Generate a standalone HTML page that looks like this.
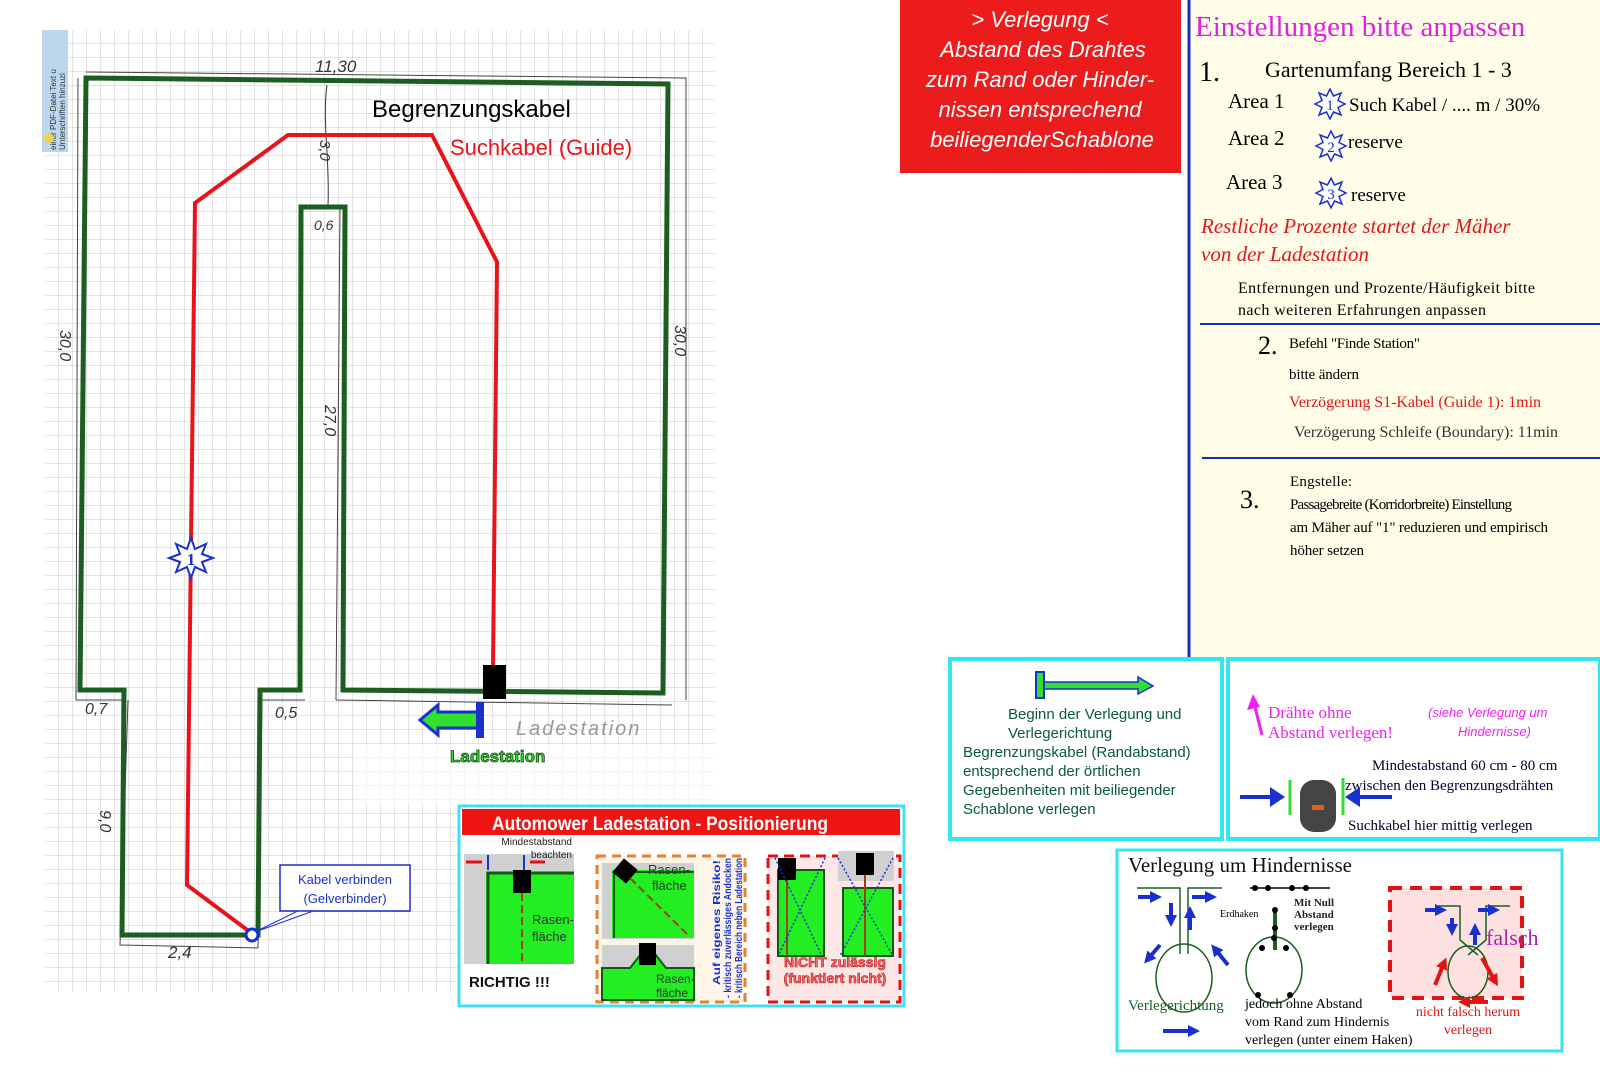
<!DOCTYPE html>
<html><head><meta charset="utf-8"><style>
html,body{margin:0;padding:0;background:#fff;width:1600px;height:1081px;overflow:hidden}
svg{display:block}
.s{font-family:"Liberation Sans",sans-serif}
.r{font-family:"Liberation Serif",serif}
.h{font-family:"Liberation Sans",sans-serif;font-style:italic;fill:#333}
</style></head><body>
<svg width="1600" height="1081" viewBox="0 0 1600 1081" xmlns="http://www.w3.org/2000/svg">
<defs>
<pattern id="g" width="14" height="14" patternUnits="userSpaceOnUse" x="45" y="30">
<path d="M14 0V14M0 14H14" fill="none" stroke="#c8c8c8" stroke-width="1"/>
</pattern>
<pattern id="g2" width="14" height="14" patternUnits="userSpaceOnUse" x="45" y="30">
<path d="M14 0V14M0 14H14" fill="none" stroke="#eaeaea" stroke-width="1"/>
</pattern>
<marker id="ab" viewBox="0 0 10 10" refX="5" refY="5" markerWidth="3" markerHeight="3" orient="auto"><path d="M0 0 L10 5 L0 10 Z" fill="#1a2fd0"/></marker>
<marker id="ar" viewBox="0 0 10 10" refX="5" refY="5" markerWidth="3" markerHeight="3" orient="auto"><path d="M0 0 L10 5 L0 10 Z" fill="#e01414"/></marker>
</defs>
<rect x="45" y="30" width="670" height="962" fill="url(#g)"/>
<rect x="355" y="745" width="360" height="60" fill="#fff"/>
<rect x="355" y="745" width="360" height="60" fill="url(#g2)"/>
<rect x="42" y="30" width="26" height="122" fill="#bcd6ee"/>
<text class="s" font-size="8" fill="#333" transform="translate(56,150) rotate(-90)">einer PDF-Datei Text u</text>
<text class="s" font-size="8" fill="#333" transform="translate(65,150) rotate(-90)">Unterschriften hinzuzi</text>
<circle cx="49" cy="138" r="5" fill="#f2d24a"/>
<path d="M86 72 L686 78 L686 700 M78 78 L76 700 L124 700 M128 700 L120 945 L258 948 M258 948 L262 700 L305 700 M336 700 L340 205 M336 700 L672 705" fill="none" stroke="#444" stroke-width="1"/>
<path d="M327 85 C322 120,330 160,328 205" fill="none" stroke="#333" stroke-width="1"/>
<path d="M86 78 L668 84 L663 693 L343 690 L345 207 L301 207 L300 690 L260 690 L258 935 L122 935 L124 690 L80 690 L86 78 Z" fill="none" stroke="#1b5e20" stroke-width="5"/>
<path d="M250 932 L187 885 L195 203 L288 135 L432 135 L497 262 L493 668" fill="none" stroke="#e8141c" stroke-width="4"/>
<rect x="483" y="665" width="23" height="34" fill="#000"/>
<polygon points="191,538 195,549 206,544 202,554 213,558 202,562 206,572 195,567 191,578 187,567 176,572 180,562 169,558 180,554 176,544 187,549" fill="#fff" stroke="#1a2fd0" stroke-width="2"/>
<text class="r" x="191" y="565" font-size="17" font-weight="bold" text-anchor="middle" fill="#1a2fd0">1</text>
<text class="s" x="372" y="117" font-size="24" fill="#000">Begrenzungskabel</text>
<text class="s" x="450" y="155" font-size="22" fill="#e8141c">Suchkabel (Guide)</text>
<text class="h" x="315" y="72" font-size="17">11,30</text>
<text class="h" font-size="15" transform="translate(320,140) rotate(90)">3,0</text>
<text class="h" x="314" y="230" font-size="14">0,6</text>
<text class="h" font-size="16" transform="translate(60,330) rotate(90)">30,0</text>
<text class="h" font-size="16" transform="translate(675,325) rotate(90)">30,0</text>
<text class="h" font-size="16" transform="translate(325,405) rotate(90)">27,0</text>
<text class="h" x="85" y="714" font-size="16">0,7</text>
<text class="h" x="275" y="718" font-size="16">0,5</text>
<text class="h" font-size="16" transform="translate(100,810) rotate(90)">9,0</text>
<text class="h" x="168" y="958" font-size="17">2,4</text>
<text class="h" x="516" y="735" font-size="20" style="fill:#999" letter-spacing="2">Ladestation</text>
<path d="M480 712 L438 712 L438 705 L420 720 L438 735 L438 728 L480 728 Z" fill="#2fe02f" stroke="#1a2fd0" stroke-width="3"/>
<rect x="476" y="702" width="8" height="36" fill="#1a2fd0"/>
<text class="s" x="450" y="762" font-size="17" font-weight="bold" fill="#2fd42f" stroke="#145214" stroke-width="0.8">Ladestation</text>
<path d="M255 932 L310 905 L330 905 Z" fill="#fff" stroke="#1a2fd0" stroke-width="1"/>
<rect x="280" y="865" width="130" height="46" fill="#fff" stroke="#1a2fd0" stroke-width="1.5"/>
<text class="s" x="345" y="884" font-size="13" text-anchor="middle" fill="#1a2fd0">Kabel verbinden</text>
<text class="s" x="345" y="903" font-size="13" text-anchor="middle" fill="#1a2fd0">(Gelverbinder)</text>
<circle cx="252" cy="935" r="6" fill="#fff" stroke="#1a2fd0" stroke-width="3"/>

<rect x="459" y="806" width="445" height="200" fill="#fff" stroke="#40e0f0" stroke-width="3"/>
<rect x="462" y="809" width="438" height="26" fill="#f01414"/>
<text class="s" x="492" y="830" font-size="19" font-weight="bold" fill="#fff" textLength="336" lengthAdjust="spacingAndGlyphs">Automower Ladestation - Positionierung</text>
<rect x="464" y="854" width="110" height="110" fill="#d0d0d0"/>
<rect x="486" y="872" width="88" height="92" fill="#22ee22"/>
<path d="M488 964 V873 H574" fill="none" stroke="#155715" stroke-width="3"/>
<text class="s" x="572" y="845" font-size="10" text-anchor="end" fill="#222">Mindestabstand</text>
<text class="s" x="572" y="858" font-size="10" text-anchor="end" fill="#222">beachten</text>
<path d="M466 862 H482 M530 862 H545" stroke="#e01010" stroke-width="3"/>
<path d="M488 855 V870 M524 855 V870" stroke="#1a2fd0" stroke-width="2"/>
<rect x="513" y="870" width="18" height="23" fill="#000"/>
<path d="M522 893 V964" stroke="#a04010" stroke-width="2" stroke-dasharray="8 4"/>
<text class="s" x="532" y="924" font-size="13" fill="#333">Rasen-</text>
<text class="s" x="532" y="941" font-size="13" fill="#333">fläche</text>
<text class="s" x="469" y="987" font-size="15" font-weight="bold" fill="#111">RICHTIG !!!</text>
<rect x="597" y="856" width="148" height="146" fill="#fff6ea" stroke="#e88030" stroke-width="3" stroke-dasharray="9 6"/>
<rect x="602" y="863" width="92" height="76" fill="#d0d0d0"/>
<rect x="612" y="870" width="82" height="68" fill="#22ee22"/>
<path d="M614 938 V872 H694" fill="none" stroke="#155715" stroke-width="2"/>
<rect x="616" y="862" width="18" height="18" fill="#000" transform="rotate(40 625 871)"/>
<path d="M630 878 L688 935" stroke="#a04010" stroke-width="2" stroke-dasharray="8 4"/>
<text class="s" x="648" y="874" font-size="13" fill="#333">Rasen-</text>
<text class="s" x="652" y="890" font-size="13" fill="#333">fläche</text>
<rect x="602" y="945" width="92" height="55" fill="#d0d0d0"/>
<path d="M602 968 L630 968 L648 945 L666 968 L694 968 V1000 H602 Z" fill="#22ee22" stroke="#155715" stroke-width="2"/>
<rect x="639" y="943" width="17" height="22" fill="#000"/>
<text class="s" x="656" y="983" font-size="12" fill="#333">Rasen-</text>
<text class="s" x="656" y="997" font-size="12" fill="#333">fläche</text>
<text class="s" font-size="10" font-weight="bold" fill="#1a2fd0" transform="translate(720,985) rotate(-90)" textLength="125" lengthAdjust="spacingAndGlyphs">Auf eigenes Risiko!</text>
<text class="s" font-size="10" font-weight="bold" fill="#1a2fd0" transform="translate(731,998) rotate(-90)" textLength="140" lengthAdjust="spacingAndGlyphs">- kritisch zuverlässiges Andocken</text>
<text class="s" font-size="10" font-weight="bold" fill="#1a2fd0" transform="translate(742,998) rotate(-90)" textLength="140" lengthAdjust="spacingAndGlyphs">- kritisch Bereich neben Ladestation</text>
<rect x="768" y="856" width="132" height="146" fill="#fde6e6" stroke="#e01414" stroke-width="3" stroke-dasharray="10 6"/>
<rect x="778" y="870" width="46" height="86" fill="#22ee22" stroke="#155715" stroke-width="2"/>
<rect x="778" y="858" width="18" height="22" fill="#000"/>
<path d="M787 880 V956" stroke="#a04010" stroke-width="2"/>
<path d="M775 858 L822 956 M825 858 L778 956" stroke="#1a2fd0" stroke-width="1.5" stroke-dasharray="2 2"/>
<rect x="838" y="851" width="56" height="30" fill="#d0d0d0"/>
<rect x="843" y="888" width="50" height="68" fill="#22ee22" stroke="#155715" stroke-width="2"/>
<rect x="856" y="853" width="18" height="22" fill="#000"/>
<path d="M865 875 V956" stroke="#a04010" stroke-width="2"/>
<path d="M838 858 L893 956 M893 858 L840 956" stroke="#1a2fd0" stroke-width="1.5" stroke-dasharray="2 2"/>
<text class="s" x="835" y="967" font-size="14" font-weight="bold" fill="#f07070" stroke="#c01010" stroke-width="0.6" text-anchor="middle">NICHT zulässig</text>
<text class="s" x="835" y="983" font-size="14" font-weight="bold" fill="#f07070" stroke="#c01010" stroke-width="0.6" text-anchor="middle">(funktiert nicht)</text>

<rect x="900" y="0" width="281" height="173" fill="#ec1c1c"/>
<g class="s" font-size="22" font-style="italic" fill="#fff" text-anchor="middle">
<text x="1040" y="27">&gt; Verlegung &lt;</text>
<text x="1043" y="57">Abstand des Drahtes</text>
<text x="1040" y="87">zum Rand oder Hinder-</text>
<text x="1040" y="117">nissen entsprechend</text>
<text x="1042" y="147">beiliegenderSchablone</text>
</g>

<rect x="1188" y="0" width="412" height="657" fill="#fffde8"/>
<path d="M1189 0 V657" stroke="#1a2fb0" stroke-width="3"/>
<text class="r" x="1195" y="36" font-size="29" fill="#dd22dd">Einstellungen bitte anpassen</text>
<text class="r" x="1199" y="81" font-size="28" fill="#000">1.</text>
<text class="r" x="1265" y="77" font-size="22" fill="#000">Gartenumfang Bereich 1 - 3</text>
<text class="r" x="1228" y="108" font-size="21" fill="#000">Area 1</text>
<text class="r" x="1228" y="145" font-size="21" fill="#000">Area 2</text>
<text class="r" x="1226" y="189" font-size="21" fill="#000">Area 3</text>
<g fill="#fff" stroke="#1a2fd0" stroke-width="1.5">
<polygon transform="translate(1330,104)" points="0,-15 3.5,-8 11,-11 8,-3.5 15,0 8,3.5 11,11 3.5,8 0,15 -3.5,8 -11,11 -8,3.5 -15,0 -8,-3.5 -11,-11 -3.5,-8"/>
<polygon transform="translate(1331,146)" points="0,-15 3.5,-8 11,-11 8,-3.5 15,0 8,3.5 11,11 3.5,8 0,15 -3.5,8 -11,11 -8,3.5 -15,0 -8,-3.5 -11,-11 -3.5,-8"/>
<polygon transform="translate(1331,193)" points="0,-15 3.5,-8 11,-11 8,-3.5 15,0 8,3.5 11,11 3.5,8 0,15 -3.5,8 -11,11 -8,3.5 -15,0 -8,-3.5 -11,-11 -3.5,-8"/>
</g>
<text class="r" x="1330" y="110" font-size="15" fill="#1a2fd0" text-anchor="middle">1</text>
<text class="r" x="1331" y="152" font-size="15" fill="#1a2fd0" text-anchor="middle">2</text>
<text class="r" x="1331" y="199" font-size="15" fill="#1a2fd0" text-anchor="middle">3</text>
<text class="r" x="1349" y="111" font-size="19" fill="#000">Such Kabel / .... m / 30%</text>
<text class="r" x="1348" y="148" font-size="19" fill="#000">reserve</text>
<text class="r" x="1351" y="201" font-size="19" fill="#000">reserve</text>
<text class="r" x="1201" y="233" font-size="21" font-style="italic" fill="#e01818">Restliche Prozente  startet der Mäher</text>
<text class="r" x="1201" y="261" font-size="21" font-style="italic" fill="#e01818">von der Ladestation</text>
<text class="r" x="1238" y="293" font-size="16" fill="#000" textLength="297">Entfernungen und Prozente/Häufigkeit bitte</text>
<text class="r" x="1238" y="315" font-size="16" fill="#000" textLength="248">nach weiteren Erfahrungen anpassen</text>
<path d="M1200 324 H1600" stroke="#1a2fb0" stroke-width="2"/>
<text class="r" x="1258" y="354" font-size="26" fill="#000">2.</text>
<text class="r" x="1289" y="348" font-size="15" fill="#000" textLength="131">Befehl "Finde Station"</text>
<text class="r" x="1289" y="379" font-size="15" fill="#000" textLength="70">bitte ändern</text>
<text class="r" x="1289" y="407" font-size="16" fill="#e01818" textLength="252">Verzögerung S1-Kabel (Guide 1): 1min</text>
<text class="r" x="1294" y="437" font-size="16" fill="#333" textLength="264">Verzögerung Schleife (Boundary): 11min</text>
<path d="M1202 458 H1600" stroke="#1a2fb0" stroke-width="2"/>
<text class="r" x="1240" y="508" font-size="26" fill="#000">3.</text>
<text class="r" x="1290" y="486" font-size="15" fill="#000" textLength="62">Engstelle:</text>
<text class="r" x="1290" y="509" font-size="15" fill="#000" textLength="222">Passagebreite (Korridorbreite) Einstellung</text>
<text class="r" x="1290" y="532" font-size="15" fill="#000" textLength="258">am Mäher auf "1" reduzieren und empirisch</text>
<text class="r" x="1290" y="555" font-size="15" fill="#000" textLength="74">höher setzen</text>

<rect x="950" y="659" width="272" height="180" fill="#fff" stroke="#33e6f0" stroke-width="4"/>
<path d="M1042 682 H1138 V677 L1153 686 L1138 694 V689 H1042 Z" fill="#2fe02f" stroke="#1a2fd0" stroke-width="1.5"/>
<rect x="1036" y="672" width="8" height="26" fill="#2fe02f" stroke="#1a2fd0" stroke-width="2"/>
<g class="s" font-size="15" fill="#0a5a3a">
<text x="1008" y="719">Beginn der Verlegung und</text>
<text x="1008" y="738">Verlegerichtung</text>
<text x="963" y="757">Begrenzungskabel (Randabstand)</text>
<text x="963" y="776">entsprechend der örtlichen</text>
<text x="963" y="795">Gegebenheiten mit beiliegender</text>
<text x="963" y="814">Schablone verlegen</text>
</g>
<rect x="1228" y="659" width="372" height="180" fill="#fff" stroke="#33e6f0" stroke-width="4"/>
<path d="M1262 735 L1254 703" stroke="#ee22ee" stroke-width="3"/>
<path d="M1253 694 L1247 710 L1260 707 Z" fill="#ee22ee"/>
<text class="r" x="1268" y="718" font-size="17" fill="#ee22ee">Drähte ohne</text>
<text class="r" x="1268" y="738" font-size="17" fill="#ee22ee">Abstand verlegen!</text>
<text class="s" x="1428" y="717" font-size="13" font-style="italic" fill="#ee22ee">(siehe Verlegung um</text>
<text class="s" x="1458" y="736" font-size="13" font-style="italic" fill="#ee22ee">Hindernisse)</text>
<text class="r" x="1372" y="770" font-size="15" fill="#000033">Mindestabstand 60 cm - 80 cm</text>
<text class="r" x="1345" y="790" font-size="15" fill="#000033">zwischen den Begrenzungsdrähten</text>
<text class="r" x="1348" y="830" font-size="15" fill="#000033">Suchkabel hier mittig verlegen</text>
<path d="M1240 797 H1275" stroke="#1a2fd0" stroke-width="4"/><path d="M1270 787 L1285 797 L1270 807 Z" fill="#1a2fd0"/>
<path d="M1392 797 H1355" stroke="#1a2fd0" stroke-width="4"/><path d="M1360 787 L1345 797 L1360 807 Z" fill="#1a2fd0"/>
<path d="M1290 780 V815 M1343 778 V815" stroke="#33dd33" stroke-width="3"/>
<rect x="1300" y="780" width="36" height="52" rx="14" fill="#444"/>
<rect x="1312" y="805" width="12" height="5" fill="#e06020"/>

<rect x="1117" y="850" width="445" height="201" fill="#fff" stroke="#33e6f0" stroke-width="3"/>
<text class="r" x="1128" y="872" font-size="21" fill="#111">Verlegung um Hindernisse</text>
<g fill="none" stroke="#1b5e20" stroke-width="1.5">
<path d="M1137 888 H1180 V954 M1188 954 V888 H1222"/>
<ellipse cx="1184" cy="978" rx="28" ry="34"/>
<path d="M1275 909 V950" stroke-width="4"/>
<ellipse cx="1274" cy="970" rx="28" ry="33"/>
</g>
<path d="M1250 888 H1330" stroke="#000" stroke-width="1.5"/>
<g fill="#000"><circle cx="1255" cy="888" r="3"/><circle cx="1268" cy="888" r="3"/><circle cx="1292" cy="888" r="3"/><circle cx="1306" cy="888" r="3"/><circle cx="1275" cy="910" r="3"/><circle cx="1275" cy="928" r="3"/><circle cx="1274" cy="938" r="3"/><circle cx="1262" cy="948" r="3"/><circle cx="1286" cy="948" r="3"/><circle cx="1258" cy="995" r="3"/><circle cx="1290" cy="995" r="3"/></g>
<text class="r" x="1220" y="917" font-size="10" fill="#000">Erdhaken</text>
<text class="r" x="1294" y="906" font-size="11" font-weight="bold" fill="#222">Mit Null</text>
<text class="r" x="1294" y="918" font-size="11" font-weight="bold" fill="#222">Abstand</text>
<text class="r" x="1294" y="930" font-size="11" font-weight="bold" fill="#222">verlegen</text>
<g stroke="#1a2fd0" stroke-width="4" fill="none" marker-end="url(#ab)">
<path d="M1138 897 H1156"/><path d="M1192 897 H1211"/><path d="M1171 903 V921"/><path d="M1190 930 V912"/>
<path d="M1160 945 L1148 959"/><path d="M1228 965 L1215 949"/><path d="M1163 1031 H1194"/>
</g>
<rect x="1390" y="888" width="132" height="110" fill="#fde0e0" stroke="#e01414" stroke-width="4" stroke-dasharray="12 8"/>
<path d="M1438 906 H1460 V940 L1478 955 M1468 955 L1486 940 V906 H1510" fill="none" stroke="#1b5e20" stroke-width="1.5"/>
<ellipse cx="1468" cy="972" rx="20" ry="26" fill="none" stroke="#1b5e20" stroke-width="1.5"/>
<g stroke="#1a2fd0" stroke-width="4" marker-end="url(#ab)"><path d="M1425 910 H1441"/><path d="M1478 910 H1494"/><path d="M1452 918 V930"/><path d="M1475 945 V929"/></g>
<g stroke="#e01414" stroke-width="4" marker-end="url(#ar)"><path d="M1435 985 L1444 963"/><path d="M1482 958 L1495 981"/><path d="M1488 1002 H1464"/></g>
<text class="r" x="1486" y="945" font-size="22" fill="#aa22aa">falsch</text>
<text class="r" x="1128" y="1010" font-size="15" fill="#1b5e20">Verlegerichtung</text>
<text class="r" x="1245" y="1008" font-size="14" fill="#000">jedoch ohne Abstand</text>
<text class="r" x="1245" y="1026" font-size="14" fill="#000">vom Rand zum Hindernis</text>
<text class="r" x="1245" y="1044" font-size="14" fill="#000">verlegen (unter einem Haken)</text>
<text class="r" x="1468" y="1016" font-size="14" fill="#e01414" text-anchor="middle">nicht falsch herum</text>
<text class="r" x="1468" y="1034" font-size="14" fill="#e01414" text-anchor="middle">verlegen</text>
</svg>
</body></html>
